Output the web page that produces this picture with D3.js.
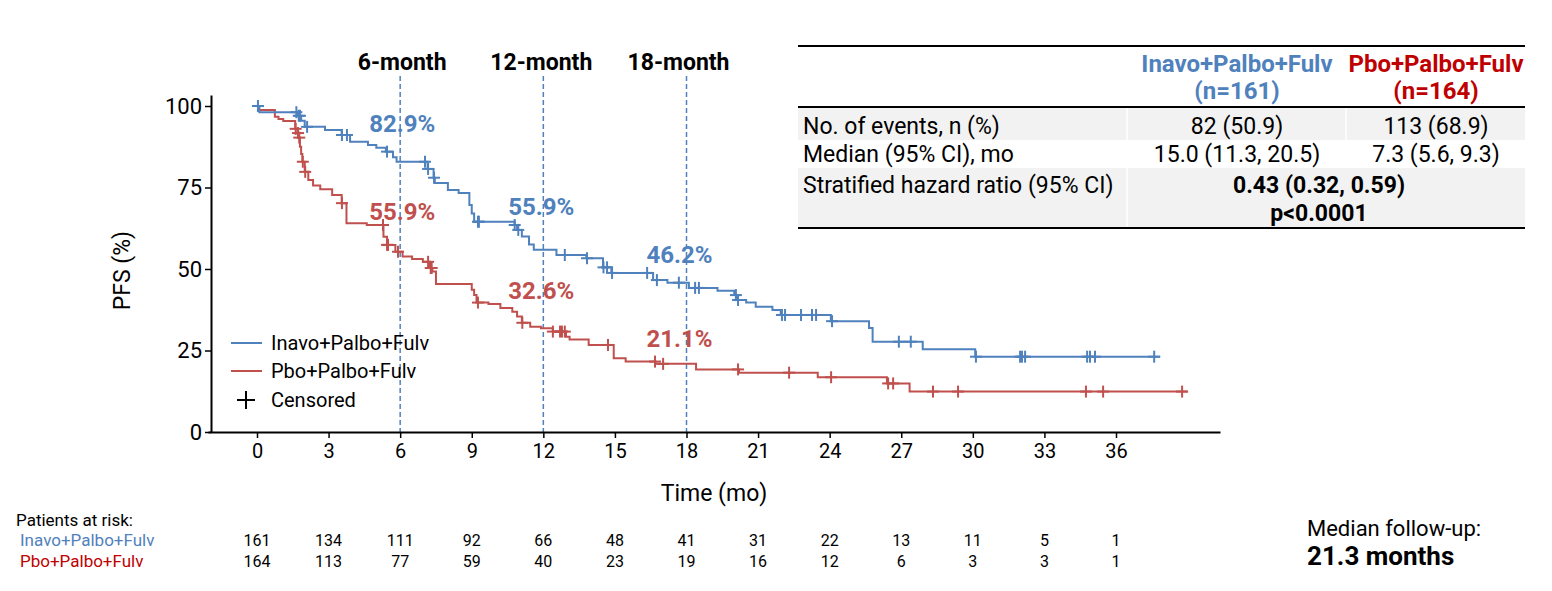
<!DOCTYPE html>
<html><head><meta charset="utf-8">
<script src="https://cdn.jsdelivr.net/npm/d3@7"></script>
<style>body{margin:0;background:#fff;} svg{display:block;font-family:Roboto,'Liberation Sans',Arial,sans-serif;}</style>
</head><body><svg id="c" width="1552" height="591"></svg>
<script>
// ---------- DATA ----------
const blueName = "Inavo+Palbo+Fulv";
const redName = "Pbo+Palbo+Fulv";
const blueTimes = [0,0.1,1.7,1.85,2.0,2.85,3.55,3.9,4.65,5.0,5.4,5.7,5.85,7.15,7.4,7.45,8.0,8.45,8.9,9.0,9.1,10.8,10.9,11.1,11.4,11.6,12.55,13.8,14.5,14.85,16.6,17.2,18.1,19.3,20.0,20.1,20.5,20.9,21.6,21.95,24.05,25.65,25.8,27.9,30.1];
const blueSurv  = [100,98.1,97.0,95.5,93.6,92.6,91.1,89.0,88.0,87.2,86.0,84.3,82.9,80.7,78.0,76.4,74.2,73.3,69.6,67.0,64.5,63.5,62.0,60.0,57.5,55.9,54.3,53.3,50.5,48.8,46.6,45.8,44.2,43.3,42.0,40.5,39.7,38.4,37.4,35.9,34.0,31.9,27.7,25.4,23.1];
const blueEnd = 37.85;
const blueCensor = [0.04,1.65,1.75,1.8,2.1,3.56,3.77,5.45,7.04,7.17,7.42,9.26,9.3,10.8,10.95,12.9,13.83,14.52,14.67,14.88,16.35,16.76,17.68,18.36,18.52,20.07,20.16,22.0,22.13,22.8,23.26,23.43,24.1,26.9,27.4,30.13,31.98,32.06,32.19,34.79,34.91,35.12,37.6];
const redTimes = [0,0.05,0.75,0.9,1.1,1.6,1.7,1.75,1.8,1.85,1.9,2.0,2.15,2.35,2.65,3.15,3.55,3.75,4.6,5.3,5.45,5.8,6.1,6.5,6.95,7.25,7.35,7.5,9.0,9.1,9.2,9.7,10.2,10.7,10.9,11.1,11.45,11.9,12.4,12.95,13.1,13.9,14.95,15.45,16.7,18.4,20.2,23.5,26.4,27.35];
const redSurv  = [100,98.8,96.7,96.0,95.4,93.0,91.7,90.3,87.5,85.3,82.9,79.8,77.3,75.6,74.5,72.7,70.2,64.0,63.5,59.9,57.4,55.3,53.8,53.1,52.2,50.3,49.2,45.4,43.6,42.0,39.7,39.3,38.0,36.9,35.4,33.5,32.3,31.8,30.8,29.2,28.4,26.7,22.6,21.6,20.9,19.2,18.2,16.8,14.9,12.4];
const redEnd = 39.0;
const redCensor = [1.62,1.72,1.77,1.92,2.02,3.56,5.28,5.45,5.49,5.91,7.17,7.28,7.32,9.26,11.12,12.4,12.7,12.78,12.9,14.71,16.68,17.02,20.16,22.3,24.06,26.45,26.66,28.33,29.38,34.74,35.46,38.77];
const xTicks = [0,3,6,9,12,15,18,21,24,27,30,33,36];
const yTicks = [0,25,50,75,100];
const landmarks = [6,12,18];
const landmarkNames = ["6-month","12-month","18-month"];
const landmarkBlue = ["82.9%","55.9%","46.2%"];
const landmarkRed = ["55.9%","32.6%","21.1%"];
const riskTimes = [0,3,6,9,12,15,18,21,24,27,30,33,36];
const blueRisk = [161,134,111,92,66,48,41,31,22,13,11,5,1];
const redRisk  = [164,113,77,59,40,23,19,16,12,6,3,3,1];
const tableHeaders = [[blueName,"(n=161)"],[redName,"(n=164)"]];
const tableRowLabels = ["No. of events, n (%)","Median (95% CI), mo","Stratified hazard ratio (95% CI)"];
const tableBlue = ["82 (50.9)","15.0 (11.3, 20.5)"];
const tableRed  = ["113 (68.9)","7.3 (5.6, 9.3)"];
const tableHR = ["0.43 (0.32, 0.59)","p<0.0001"];
const followUp = ["Median follow-up:","21.3 months"];

// ---------- STYLE / LAYOUT ----------
const BLUE = "#4f81bd", RED = "#c0504d", DRED = "#c00000";
const svg = d3.select("#c");
const x0 = d3.scaleLinear().domain([0,36]).range([257,1116]);
const x = d3.scaleLinear().domain([x0.invert(208), x0.invert(1220)]).range([208,1220]);
const y0 = d3.scaleLinear().domain([0,100]).range([432,106]);
const y = d3.scaleLinear().domain([0, y0.invert(95)]).range([432,95]);

// landmark dashed lines
const nameDx=[2,-2,-8];
landmarks.forEach((m,i)=>{
  svg.append("line").attr("x1",x(m)).attr("x2",x(m)).attr("y1",76).attr("y2",432)
    .attr("stroke",BLUE).attr("stroke-width",1.5).attr("stroke-dasharray","5,3");
  svg.append("text").attr("x",x(m)+nameDx[i]).attr("y",70).attr("text-anchor","middle")
    .attr("font-weight","bold").attr("font-size",23).attr("fill","#000").text(landmarkNames[i]);
});

// axes
const xAxis = d3.axisBottom(x).tickValues(xTicks).tickSize(6).tickSizeOuter(0).tickFormat(d3.format("d"));
const gx = svg.append("g").attr("transform","translate(0,432)").call(xAxis);
gx.select(".domain").attr("stroke","#000").attr("stroke-width",2);
gx.selectAll(".tick line").attr("stroke","#000").attr("stroke-width",1.5);
gx.selectAll(".tick text").attr("font-size",20).attr("font-family","Roboto").attr("fill","#000").attr("dy","0.85em");
const yAxis = d3.axisLeft(y).tickValues(yTicks).tickSize(6).tickSizeOuter(0);
const gy = svg.append("g").attr("transform","translate(211,0)").call(yAxis);
gy.select(".domain").attr("stroke","#000").attr("stroke-width",2);
gy.selectAll(".tick line").attr("stroke","#000").attr("stroke-width",1.5);
gy.selectAll(".tick text").attr("font-size",22).attr("font-family","Roboto").attr("fill","#000").attr("x",-9);
svg.append("text").attr("x",714).attr("y",501).attr("text-anchor","middle").attr("font-size",23).text("Time (mo)");
svg.append("text").attr("transform",`translate(130,${y(49.5)}) rotate(-90)`).attr("text-anchor","middle").attr("font-size",23).text("PFS (%)");

// curves
function drawCurve(times, surv, end, censor, color){
  const pts = times.map((t,i)=>[t,surv[i]]);
  pts.push([end, surv[surv.length-1]]);
  const line = d3.line().x(d=>x(d[0])).y(d=>y(d[1])).curve(d3.curveStepAfter);
  svg.append("path").datum(pts).attr("d",line).attr("fill","none").attr("stroke",color).attr("stroke-width",2);
  const sAt = t => { let s = surv[0]; for(let i=0;i<times.length;i++){ if(times[i]<=t) s=surv[i]; } return s; };
  const g = svg.append("g").attr("stroke",color).attr("stroke-width",2);
  censor.forEach(t=>{
    const cx = x(t), cy = y(sAt(t));
    g.append("line").attr("x1",cx-6).attr("x2",cx+6).attr("y1",cy).attr("y2",cy);
    g.append("line").attr("x1",cx).attr("x2",cx).attr("y1",cy-6).attr("y2",cy+6);
  });
}
drawCurve(redTimes, redSurv, redEnd, redCensor, RED);
drawCurve(blueTimes, blueSurv, blueEnd, blueCensor, BLUE);

// landmark percentages
const blueLabY = [94.8,69.3,54.6], redLabY = [67.8,43.6,28.8], labDx=[2,-2,-7];
landmarks.forEach((m,i)=>{
  svg.append("text").attr("x",x(m)+labDx[i]).attr("y",y(blueLabY[i])).attr("dy","0.36em").attr("text-anchor","middle")
    .attr("font-weight","bold").attr("font-size",24).attr("fill",BLUE).text(landmarkBlue[i]);
  svg.append("text").attr("x",x(m)+labDx[i]).attr("y",y(redLabY[i])).attr("dy","0.36em").attr("text-anchor","middle")
    .attr("font-weight","bold").attr("font-size",24).attr("fill",RED).text(landmarkRed[i]);
});

// legend
const lg = svg.append("g");
[[blueName,BLUE,343],[redName,RED,371]].forEach(([n,c,yy])=>{
  lg.append("line").attr("x1",231).attr("x2",262).attr("y1",yy).attr("y2",yy).attr("stroke",c).attr("stroke-width",2);
  lg.append("text").attr("x",271).attr("y",yy).attr("dy","0.36em").attr("font-size",20).text(n);
});
lg.append("line").attr("x1",237).attr("x2",255).attr("y1",400).attr("y2",400).attr("stroke","#000").attr("stroke-width",2);
lg.append("line").attr("x1",246).attr("x2",246).attr("y1",391).attr("y2",409).attr("stroke","#000").attr("stroke-width",2);
lg.append("text").attr("x",271).attr("y",400).attr("dy","0.36em").attr("font-size",20).text("Censored");

// table
const T = svg.append("g");
const tL=798, tR=1525, c1=1127, c2=1346;
T.append("rect").attr("x",tL).attr("y",108).attr("width",tR-tL).attr("height",32).attr("fill","#f2f2f2");
T.append("rect").attr("x",tL).attr("y",168).attr("width",tR-tL).attr("height",60).attr("fill","#f2f2f2");
[c1,c2].forEach(cx=>T.append("line").attr("x1",cx).attr("x2",cx).attr("y1",108).attr("y2",140).attr("stroke","#fff").attr("stroke-width",1.5));
T.append("line").attr("x1",c1).attr("x2",c1).attr("y1",168).attr("y2",228).attr("stroke","#fff").attr("stroke-width",1.5);
[46,107,228].forEach(yy=>T.append("line").attr("x1",tL).attr("x2",tR).attr("y1",yy).attr("y2",yy).attr("stroke","#000").attr("stroke-width",2));
const colX=[1237,1436], colC=[BLUE,DRED];
tableHeaders.forEach((h,i)=>{
  h.forEach((s,j)=>T.append("text").attr("x",colX[i]).attr("y",72+j*27).attr("text-anchor","middle")
    .attr("font-weight","bold").attr("font-size",24).attr("fill",colC[i]).text(s));
});
const rowY=[134,162,193];
tableRowLabels.forEach((s,i)=>T.append("text").attr("x",803).attr("y",rowY[i]).attr("font-size",23).text(s));
tableBlue.forEach((s,i)=>T.append("text").attr("x",colX[0]).attr("y",rowY[i]).attr("text-anchor","middle").attr("font-size",23).text(s));
tableRed.forEach((s,i)=>T.append("text").attr("x",colX[1]).attr("y",rowY[i]).attr("text-anchor","middle").attr("font-size",23).text(s));
tableHR.forEach((s,i)=>T.append("text").attr("x",1319).attr("y",193+i*28).attr("text-anchor","middle").attr("font-weight","bold").attr("font-size",23).text(s));

// risk table
svg.append("text").attr("x",16).attr("y",526).attr("font-size",17).text("Patients at risk:");
svg.append("text").attr("x",20).attr("y",546).attr("font-size",17).attr("fill",BLUE).text(blueName);
svg.append("text").attr("x",20).attr("y",567).attr("font-size",17).attr("fill",DRED).text(redName);
riskTimes.forEach((t,i)=>{
  svg.append("text").attr("x",x(t)).attr("y",546).attr("text-anchor","middle").attr("font-size",16).text(blueRisk[i]);
  svg.append("text").attr("x",x(t)).attr("y",567).attr("text-anchor","middle").attr("font-size",16).text(redRisk[i]);
});

// follow-up
svg.append("text").attr("x",1307).attr("y",536).attr("font-size",22).text(followUp[0]);
svg.append("text").attr("x",1307).attr("y",565).attr("font-size",26).attr("font-weight","bold").text(followUp[1]);
</script></body></html>
